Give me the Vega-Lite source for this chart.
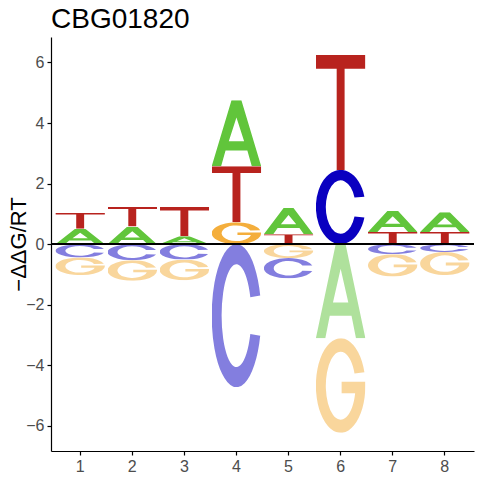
{
  "$schema": "https://vega.github.io/schema/vega-lite/v6.json",
  "width": 423,
  "height": 414,
  "autosize": "none",
  "padding": {"left": 51, "top": 37, "right": 6, "bottom": 29},
  "background": "white",
  "title": {
    "text": "CBG01820",
    "anchor": "start",
    "frame": "group",
    "font": "Liberation Sans",
    "fontSize": 28,
    "fontWeight": "normal",
    "color": "black",
    "baseline": "bottom",
    "offset": 4,
    "dy": 29
  },
  "config": {
    "view": {"stroke": null},
    "axis": {
      "grid": false,
      "domainColor": "black",
      "domainWidth": 1.2,
      "tickColor": "black",
      "tickWidth": 1.2,
      "tickSize": 4,
      "labelColor": "#4D4D4D",
      "labelFont": "Liberation Sans",
      "labelFontSize": 16,
      "labelPadding": 3
    }
  },
  "data": {
    "values": [
      {"pos": 1, "letter": "A", "value": 0.51},
      {"pos": 1, "letter": "T", "value": 0.53},
      {"pos": 1, "letter": "C", "value": -0.44},
      {"pos": 1, "letter": "G", "value": -0.58},
      {"pos": 2, "letter": "A", "value": 0.58},
      {"pos": 2, "letter": "T", "value": 0.66},
      {"pos": 2, "letter": "C", "value": -0.53},
      {"pos": 2, "letter": "G", "value": -0.68},
      {"pos": 3, "letter": "A", "value": 0.26},
      {"pos": 3, "letter": "T", "value": 0.97},
      {"pos": 3, "letter": "C", "value": -0.51},
      {"pos": 3, "letter": "G", "value": -0.68},
      {"pos": 4, "letter": "G", "value": 0.72},
      {"pos": 4, "letter": "T", "value": 1.85},
      {"pos": 4, "letter": "A", "value": 2.18},
      {"pos": 4, "letter": "C", "value": -4.72},
      {"pos": 5, "letter": "T", "value": 0.33},
      {"pos": 5, "letter": "A", "value": 0.86},
      {"pos": 5, "letter": "G", "value": -0.46},
      {"pos": 5, "letter": "C", "value": -0.67},
      {"pos": 6, "letter": "C", "value": 2.45},
      {"pos": 6, "letter": "T", "value": 3.8},
      {"pos": 6, "letter": "A", "value": -3.11},
      {"pos": 6, "letter": "G", "value": -3.12},
      {"pos": 7, "letter": "T", "value": 0.4},
      {"pos": 7, "letter": "A", "value": 0.71},
      {"pos": 7, "letter": "C", "value": -0.33},
      {"pos": 7, "letter": "G", "value": -0.74},
      {"pos": 8, "letter": "T", "value": 0.4},
      {"pos": 8, "letter": "A", "value": 0.65},
      {"pos": 8, "letter": "C", "value": -0.26},
      {"pos": 8, "letter": "G", "value": -0.76}
    ]
  },
  "layer": [
    {
      "transform": [
        {"calculate": "abs(datum.value)", "as": "mag"},
        {"stack": "value", "groupby": ["pos"], "sort": [{"field": "mag", "order": "ascending"}], "as": ["y0", "y1"]}
      ],
      "mark": {"type": "image", "aspect": false},
      "encoding": {
        "x": {
          "field": "pos",
          "type": "ordinal",
          "scale": {"paddingInner": 0.05, "paddingOuter": 0.085},
          "axis": {"title": null, "labelAngle": 0}
        },
        "y": {
          "field": "y0",
          "type": "quantitative",
          "scale": {"domain": [-6.83, 6.84], "nice": false, "zero": false},
          "axis": {
            "values": [-6, -4, -2, 0, 2, 4, 6],
            "title": "−ΔΔG/RT",
            "titleFont": "Liberation Sans",
            "titleFontSize": 22,
            "titleFontWeight": "normal",
            "titleColor": "black",
            "titleAngle": -90,
            "titleAlign": "center",
            "titleBaseline": "alphabetic",
            "titleX": -26,
            "titleY": 207
          }
        },
        "y2": {"field": "y1"},
        "url": {
          "condition": [
            {"test": "datum.letter === 'A'", "value": "data:image/svg+xml;utf8,<svg xmlns='http://www.w3.org/2000/svg' width='100' height='100' viewBox='0 0 100 100' preserveAspectRatio='none'><path fill='%2361C53B' fill-rule='evenodd' d='M0 100L40 0H60L100 100H81L72 76H28L19 100ZM50 26L65.5 62H34.5Z'/></svg>"},
            {"test": "datum.letter === 'C'", "value": "data:image/svg+xml;utf8,<svg xmlns='http://www.w3.org/2000/svg' width='100' height='100' viewBox='0 0 100 100' preserveAspectRatio='none'><path fill='%230A00C0' d='M98 36A50 50 0 1 0 98 64L78 62.9A30 36 0 1 1 78 37.1Z'/></svg>"},
            {"test": "datum.letter === 'G'", "value": "data:image/svg+xml;utf8,<svg xmlns='http://www.w3.org/2000/svg' width='100' height='100' viewBox='0 0 100 100' preserveAspectRatio='none'><path fill='%23F4AE3C' d='M98 36A50 50 0 1 0 100 50V46H52V58H79.3A30 36 0 1 1 78 37.1Z'/></svg>"}
          ],
          "value": "data:image/svg+xml;utf8,<svg xmlns='http://www.w3.org/2000/svg' width='100' height='100' viewBox='0 0 100 100' preserveAspectRatio='none'><path fill='%23B8231E' d='M0 0H100V12H58V100H42V12H0Z'/></svg>"
        },
        "opacity": {"condition": {"test": "datum.value < 0", "value": 0.5}, "value": 1}
      }
    },
    {
      "mark": {"type": "rule", "color": "black", "strokeWidth": 1},
      "encoding": {"y": {"datum": 0}}
    }
  ]
}
